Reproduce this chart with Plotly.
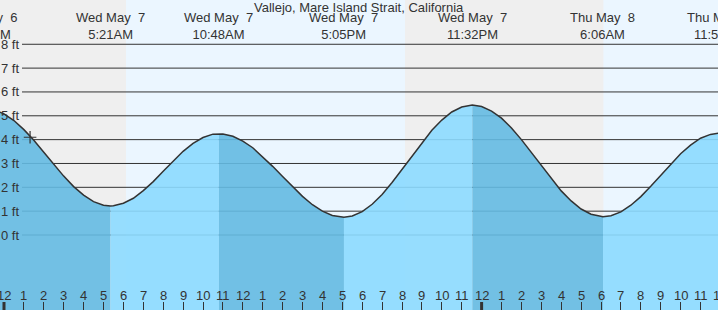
import plotly.graph_objects as go

TITLE = "Vallejo, Mare Island Strait, California"

# Tide curve readings: hours after Wed May 7 00:00, height in feet
tide_hours = [-0.933, -0.5, 0, 0.5, 1, 1.5, 2, 2.5, 3, 3.5, 4, 4.5, 5, 5.35,
              5.5, 6, 6.5, 7, 7.5, 8, 8.5, 9, 9.5, 10, 10.5, 10.8,
              11, 11.5, 12, 12.5, 13, 13.5, 14, 14.5, 15, 15.5, 16, 16.5, 17, 17.083,
              17.5, 18, 18.5, 19, 19.5, 20, 20.5, 21, 21.5, 22, 22.5, 23, 23.533,
              24, 24.5, 25, 25.5, 26, 26.5, 27, 27.5, 28, 28.5, 29, 29.5, 30, 30.1,
              30.5, 31, 31.5, 32, 32.5, 33, 33.5, 34, 34.5, 35, 35.5, 35.93]
tide_feet = [5.30, 5.25, 5.08, 4.80, 4.42, 3.97, 3.47, 2.96, 2.47, 2.03, 1.67, 1.40, 1.25, 1.22,
             1.23, 1.33, 1.54, 1.86, 2.24, 2.67, 3.10, 3.51, 3.84, 4.09, 4.23, 4.25,
             4.24, 4.14, 3.94, 3.66, 3.29, 2.88, 2.45, 2.02, 1.62, 1.27, 1.00, 0.82, 0.75, 0.75,
             0.80, 0.98, 1.29, 1.70, 2.20, 2.75, 3.32, 3.88, 4.39, 4.82, 5.16, 5.37, 5.45,
             5.39, 5.20, 4.90, 4.49, 4.00, 3.46, 2.91, 2.36, 1.85, 1.43, 1.09, 0.87, 0.77, 0.77,
             0.81, 0.97, 1.25, 1.61, 2.04, 2.51, 2.97, 3.41, 3.77, 4.06, 4.22, 4.27]

# High / low tide events
event_hours = [-0.933, 5.35, 10.8, 17.083, 23.533, 30.1, 35.93]
event_days = ["Tue May \u00a06", "Wed May \u00a07", "Wed May \u00a07", "Wed May \u00a07",
              "Wed May \u00a07", "Thu May \u00a08", "Thu May \u00a08"]
event_times = ["11:04PM", "5:21AM", "10:48AM", "5:05PM", "11:32PM", "6:06AM", "11:56AM"]
event_feet = [5.30, 1.22, 4.25, 0.75, 5.45, 0.77, 4.27]

# Daylight periods (sunrise, sunset) in hours
day_starts = [6.13, 30.12]
day_ends = [20.15, 37.0]

grid_feet = [0, 1, 2, 3, 4, 5, 6, 7, 8]
grid_labels = ["0 ft", "1 ft", "2 ft", "3 ft", "4 ft", "5 ft", "6 ft", "7 ft", "8 ft"]

hour_ticks = list(range(0, 37))
hour_labels = ["12", "1", "2", "3", "4", "5", "6", "7", "8", "9", "10", "11",
               "12", "1", "2", "3", "4", "5", "6", "7", "8", "9", "10", "11",
               "12", "1", "2", "3", "4", "5", "6", "7", "8", "9", "10", "11", "12"]
midnight_hours = [0, 24]

now_hour = [1.31]
now_feet = [4.10]

X_RANGE = [-0.201, 35.879]
Y_RANGE = [-3.146, 9.857]
W, H = 718, 310

FONT = "Liberation Sans, Arial, sans-serif"
TXT = "#333333"
NIGHT = "#efefef"
DAY = "#ebf6ff"
FALL = "rgba(100,186,226,0.9)"
RISE = "rgba(140,218,255,0.9)"


def xpaper(h):
    return (h - X_RANGE[0]) / (X_RANGE[1] - X_RANGE[0])


fig = go.Figure()

shapes = []
for s, e in zip(day_starts, day_ends):
    shapes.append(dict(type="rect", xref="x", yref="paper", x0=s, x1=e, y0=0, y1=1,
                       fillcolor=DAY, line=dict(width=0), layer="below"))
for g in grid_feet:
    shapes.append(dict(type="line", xref="paper", yref="y", x0=22 / W, x1=1, y0=g, y1=g,
                       line=dict(color="#333333", width=1), layer="below"))
for m in midnight_hours:
    shapes.append(dict(type="line", xref="x", yref="paper", x0=m, x1=m, y0=0, y1=8 / H,
                       line=dict(color="#333333", width=3), layer="above"))

# water fill segments: darker on falling tide, lighter on rising tide
for i in range(len(event_hours) - 1):
    a, b = event_hours[i], event_hours[i + 1]
    sx = [t for t in tide_hours if a <= t <= b]
    sy = [f for t, f in zip(tide_hours, tide_feet) if a <= t <= b]
    color = FALL if event_feet[i + 1] < event_feet[i] else RISE
    fig.add_trace(go.Scatter(x=sx, y=[Y_RANGE[0] - 1] * len(sx), mode="lines",
                             line=dict(width=0), hoverinfo="skip", showlegend=False))
    fig.add_trace(go.Scatter(x=sx, y=sy, mode="lines", fill="tonexty", fillcolor=color,
                             line=dict(width=0), hoverinfo="skip", showlegend=False))

fig.add_trace(go.Scatter(x=tide_hours, y=tide_feet, mode="lines",
                         line=dict(color="#333333", width=1.5),
                         hoverinfo="skip", showlegend=False))
fig.add_trace(go.Scatter(x=now_hour, y=now_feet, mode="markers",
                         marker=dict(symbol="cross-thin", size=9,
                                     line=dict(color="#333333", width=1.2)),
                         hoverinfo="skip", showlegend=False))

ann = []
ann.append(dict(text=TITLE, xref="paper", yref="paper", x=0.5, y=1 - 7.3 / H,
                xanchor="center", yanchor="middle", showarrow=False,
                font=dict(family=FONT, size=13, color=TXT)))
for h, d, t in zip(event_hours, event_days, event_times):
    ann.append(dict(text=d + "<br>" + t, xref="paper", yref="paper", x=xpaper(h),
                    y=1 - 26.0 / H, xanchor="center", yanchor="middle", showarrow=False,
                    align="center", font=dict(family=FONT, size=13, color=TXT)))
for g, lab in zip(grid_feet, grid_labels):
    ann.append(dict(text=lab, xref="paper", yref="y", x=21 / W, y=g,
                    xanchor="right", yanchor="middle", showarrow=False,
                    font=dict(family=FONT, size=13, color=TXT)))
for h, lab in zip(hour_ticks, hour_labels):
    ann.append(dict(text=lab, xref="paper", yref="paper", x=xpaper(h), y=1 - 295 / H,
                    xanchor="center", yanchor="middle", showarrow=False,
                    font=dict(family=FONT, size=13, color=TXT)))

fig.update_layout(
    width=W, height=H, margin=dict(l=0, r=0, t=0, b=0),
    plot_bgcolor=NIGHT, paper_bgcolor=NIGHT,
    shapes=shapes, annotations=ann, showlegend=False,
    xaxis=dict(range=X_RANGE, showgrid=False, zeroline=False, showline=False,
               ticks="inside", ticklen=8, tickwidth=1, tickcolor="#333333",
               tickvals=hour_ticks[:-1], showticklabels=False, fixedrange=True),
    yaxis=dict(range=Y_RANGE, showgrid=False, zeroline=False, showline=False,
               showticklabels=False, fixedrange=True),
)

fig.write_html("out.html")
